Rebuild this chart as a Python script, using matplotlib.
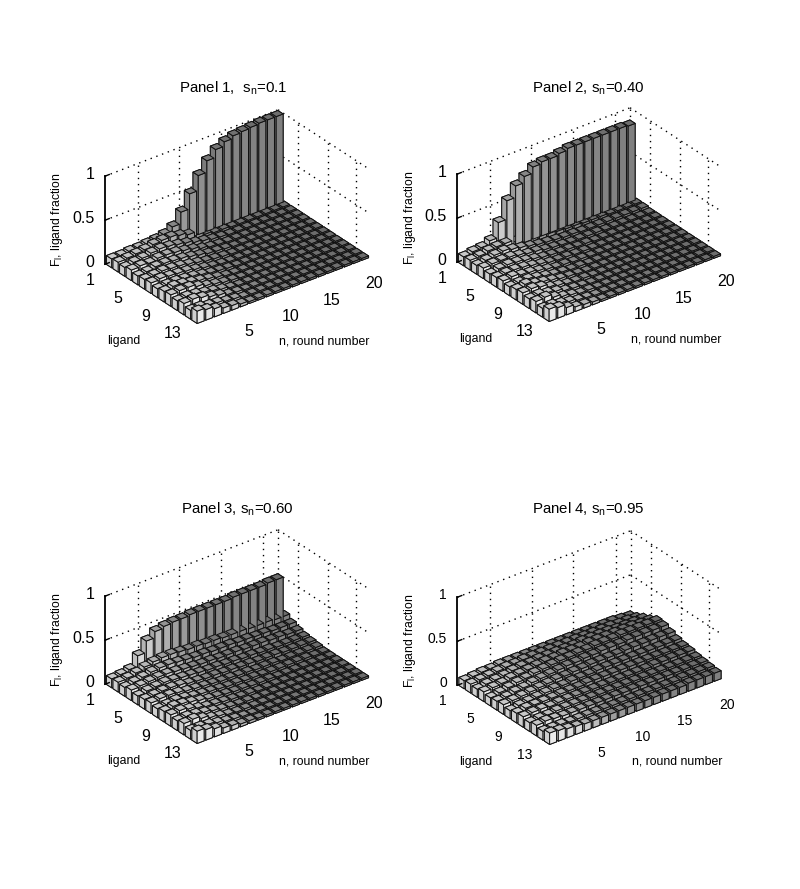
#!/usr/bin/env python3
# -*- coding: utf-8 -*-

import numpy as np
import matplotlib
matplotlib.use("Agg")
import matplotlib.pyplot as plt
from mpl_toolkits.mplot3d import proj3d

plt.rcParams["font.family"] = ["Liberation Sans", "DejaVu Sans"]
plt.rcParams["mathtext.default"] = "regular"

rounds = np.arange(1, 21)
ligands = np.arange(1, 15)

# tick labels do not sit on the bar centres in the original
n_ticks = [4.3, 9.1, 13.9, 18.8]
n_labels = ["5", "10", "15", "20"]
ligand_ticks = [-0.8, 3.4, 7.6, 11.7]
ligand_grid = [3.6, 8.1, 12.4]
ligand_labels = ["1", "5", "9", "13"]
z_ticks = [0, 0.5, 1]
z_labels = ["0", "0.5", "1"]

panel1 = [
    [.10, .10, .11, .11, .12, .13, .15, .20, .33, .50, .67, .80, .89, .94, .97, .98, .99, 1.0, 1.0, 1.0],
    [.11, .12, .13, .14, .16, .17, .17, .15, .12, .08, .05, .03, .03, .02, .02, .02, .02, .02, .02, .02],
    [.10, .12, .13, .15, .16, .15, .13, .11, .08, .06, .04, .03, .02, .02, .02, .02, .02, .02, .02, .02],
    [.12, .13, .12, .14, .14, .13, .11, .09, .06, .04, .03, .02, .02, .02, .02, .02, .02, .02, .02, .02],
    [.10, .11, .13, .13, .12, .11, .09, .07, .05, .04, .03, .02, .02, .02, .02, .02, .02, .02, .02, .02],
    [.11, .12, .13, .12, .11, .09, .07, .05, .04, .03, .02, .02, .02, .02, .02, .02, .02, .02, .02, .02],
    [.12, .13, .12, .11, .10, .08, .06, .04, .03, .02, .02, .02, .02, .02, .02, .02, .02, .02, .02, .02],
    [.10, .11, .11, .10, .09, .07, .05, .04, .03, .02, .02, .02, .02, .02, .02, .02, .02, .02, .02, .02],
    [.12, .14, .13, .11, .09, .07, .05, .03, .02, .02, .02, .02, .02, .02, .02, .02, .02, .02, .02, .02],
    [.13, .14, .14, .11, .08, .06, .04, .03, .02, .02, .02, .02, .02, .02, .02, .02, .02, .02, .02, .02],
    [.11, .12, .11, .09, .07, .05, .03, .02, .02, .02, .02, .02, .02, .02, .02, .02, .02, .02, .02, .02],
    [.13, .14, .12, .09, .07, .04, .03, .02, .02, .02, .02, .02, .02, .02, .02, .02, .02, .02, .02, .02],
    [.10, .10, .08, .07, .05, .04, .02, .02, .02, .02, .02, .02, .02, .02, .02, .02, .02, .02, .02, .02],
    [.14, .12, .09, .06, .05, .03, .02, .02, .02, .02, .02, .02, .02, .02, .02, .02, .02, .02, .02, .02],
]

panel2 = [
    [.10, .12, .13, .17, .34, .55, .68, .75, .82, .84, .84, .86, .88, .88, .88, .88, .88, .88, .88, .87],
    [.11, .12, .14, .15, .15, .13, .11, .09, .08, .07, .06, .05, .05, .04, .04, .04, .03, .03, .03, .03],
    [.10, .12, .14, .15, .13, .11, .09, .07, .06, .05, .04, .04, .03, .03, .03, .03, .03, .03, .03, .03],
    [.12, .13, .13, .13, .11, .09, .08, .06, .05, .04, .03, .03, .03, .03, .02, .02, .02, .02, .02, .02],
    [.10, .12, .13, .12, .10, .08, .06, .05, .04, .04, .03, .03, .02, .02, .02, .02, .02, .02, .02, .02],
    [.11, .12, .12, .11, .09, .07, .05, .04, .04, .03, .03, .02, .02, .02, .02, .02, .02, .02, .02, .02],
    [.12, .13, .11, .10, .08, .06, .04, .04, .03, .03, .02, .02, .02, .02, .02, .02, .02, .02, .02, .02],
    [.10, .11, .11, .09, .07, .05, .04, .03, .03, .02, .02, .02, .02, .02, .02, .02, .02, .02, .02, .02],
    [.12, .14, .11, .09, .07, .05, .04, .03, .02, .02, .02, .02, .02, .02, .02, .02, .02, .02, .02, .02],
    [.13, .14, .12, .08, .06, .04, .03, .03, .02, .02, .02, .02, .02, .02, .02, .02, .02, .02, .02, .02],
    [.11, .12, .10, .08, .05, .04, .03, .02, .02, .02, .02, .02, .02, .02, .02, .02, .02, .02, .02, .02],
    [.13, .14, .10, .07, .05, .03, .03, .02, .02, .02, .02, .02, .02, .02, .02, .02, .02, .02, .02, .02],
    [.10, .10, .08, .06, .04, .03, .02, .02, .02, .02, .02, .02, .02, .02, .02, .02, .02, .02, .02, .02],
    [.14, .12, .08, .05, .04, .03, .02, .02, .02, .02, .02, .02, .02, .02, .02, .02, .02, .02, .02, .02],
]

panel3 = [
    [.10, .11, .13, .25, .38, .45, .47, .48, .48, .49, .49, .49, .49, .49, .50, .50, .50, .50, .51, .51],
    [.11, .12, .14, .17, .19, .20, .20, .19, .18, .18, .17, .17, .16, .16, .16, .15, .15, .15, .14, .14],
    [.10, .12, .14, .16, .17, .17, .16, .15, .14, .14, .13, .13, .13, .12, .12, .11, .11, .10, .10, .10],
    [.12, .13, .14, .15, .15, .14, .13, .12, .11, .11, .10, .10, .10, .09, .09, .09, .08, .08, .07, .07],
    [.10, .12, .13, .14, .13, .12, .11, .10, .09, .09, .08, .08, .07, .07, .06, .06, .05, .05, .05, .05],
    [.11, .12, .13, .13, .12, .10, .09, .08, .08, .07, .07, .06, .06, .05, .05, .05, .04, .04, .04, .04],
    [.12, .13, .13, .12, .10, .09, .08, .07, .06, .06, .05, .05, .04, .04, .04, .03, .03, .03, .03, .03],
    [.10, .11, .12, .11, .09, .08, .07, .06, .05, .05, .04, .04, .03, .03, .03, .03, .03, .03, .02, .02],
    [.12, .14, .13, .11, .09, .07, .06, .05, .04, .04, .03, .03, .03, .02, .02, .02, .02, .02, .02, .02],
    [.13, .14, .12, .09, .07, .06, .05, .04, .03, .03, .02, .02, .02, .02, .02, .02, .02, .02, .02, .02],
    [.11, .12, .11, .09, .07, .05, .04, .03, .03, .02, .02, .02, .02, .02, .02, .02, .02, .02, .02, .02],
    [.13, .14, .11, .08, .06, .04, .03, .03, .02, .02, .02, .02, .02, .02, .02, .02, .02, .02, .02, .02],
    [.10, .10, .09, .07, .05, .04, .03, .02, .02, .02, .02, .02, .02, .02, .02, .02, .02, .02, .02, .02],
    [.14, .12, .09, .06, .05, .03, .03, .02, .02, .02, .02, .02, .02, .02, .02, .02, .02, .02, .02, .02],
]

panel4 = [
    [.09, .10, .11, .11, .12, .12, .12, .12, .12, .12, .12, .12, .12, .12, .12, .12, .12, .12, .11, .10],
    [.10, .11, .12, .13, .14, .14, .15, .15, .15, .15, .15, .15, .15, .15, .15, .15, .15, .14, .14, .13],
    [.09, .11, .12, .13, .15, .16, .16, .17, .17, .17, .17, .17, .18, .18, .18, .18, .17, .17, .17, .17],
    [.11, .12, .13, .15, .16, .17, .18, .19, .19, .20, .20, .20, .21, .21, .21, .21, .21, .21, .20, .20],
    [.09, .11, .13, .15, .16, .18, .19, .20, .21, .21, .22, .22, .23, .23, .23, .24, .24, .24, .24, .24],
    [.10, .11, .13, .14, .16, .17, .18, .19, .20, .20, .21, .21, .22, .22, .22, .23, .23, .23, .23, .23],
    [.11, .12, .13, .14, .15, .16, .17, .17, .18, .18, .19, .19, .19, .19, .20, .20, .20, .20, .20, .20],
    [.09, .11, .12, .13, .14, .15, .15, .16, .16, .16, .17, .17, .17, .17, .17, .17, .17, .17, .17, .17],
    [.11, .13, .13, .13, .13, .14, .14, .14, .15, .15, .15, .15, .15, .15, .15, .15, .15, .15, .15, .15],
    [.12, .13, .13, .12, .13, .13, .13, .13, .13, .13, .13, .13, .13, .13, .13, .14, .14, .14, .14, .14],
    [.10, .11, .11, .12, .12, .12, .12, .12, .12, .12, .12, .12, .12, .12, .12, .12, .12, .12, .12, .12],
    [.12, .13, .12, .11, .11, .11, .11, .11, .11, .11, .11, .11, .11, .11, .11, .11, .11, .11, .11, .11],
    [.10, .10, .10, .09, .09, .09, .09, .09, .09, .09, .09, .09, .09, .09, .09, .09, .10, .10, .10, .10],
    [.13, .12, .10, .09, .08, .08, .08, .08, .08, .08, .08, .08, .08, .08, .08, .08, .09, .09, .09, .09],
]

titles = ["Panel 1,  s$_n$=0.1", "Panel 2, s$_n$=0.40", "Panel 3, s$_n$=0.60", "Panel 4, s$_n$=0.95"]
panels = [panel1, panel2, panel3, panel4]

# grey level of each round's bars, light at round 1
round_greys = [.92, .90, .88, .85, .80, .74, .68, .62, .60, .58, .56, .55, .54, .53, .52, .52, .51, .51, .50, .50]

# box centre on the page in pixels, box scale, title position, tick font size
centres = [(237.5, 217), (589.5, 215), (237.5, 637), (590, 638)]
sizes = [276, 276, 276, 276]
title_pos = [(233, 88), (588, 88), (237, 509), (588, 509)]
tick_fonts = [11.5, 11.5, 11.5, 10]

W, H = 800, 889


def put_text(ax, x, y, z, label, fontsize, ha="center"):
    # 2D text at the projected point, so its position is a plain page position
    px, py, _ = proj3d.proj_transform(x, y, z, ax.get_proj())
    ax.text2D(px, py, label, transform=ax.transData, ha=ha, va="center",
              fontsize=fontsize, zorder=4)


def draw_panel(fig, values, title, centre, size, title_xy, tick_font):
    left = centre[0] - 0.5135 * size
    bottom = H - centre[1] - 0.5135 * size
    ax = fig.add_axes([left / W, bottom / H, size / W, size / H], projection="3d", proj_type="ortho")
    ax.set_axis_off()
    ax.patch.set_alpha(0)
    ax.computed_zorder = False
    ax.view_init(elev=30, azim=-127.5)
    ax.set_box_aspect((218, 151, 101.6))
    ax.set_xlim(0.5, 20.5)
    ax.set_ylim(14.5, 0.5)
    ax.set_zlim(0, 1)

    x0, x1 = 0.5, 20.5
    y0, y1 = 0.5, 14.5
    dots = dict(color="black", lw=1.0, ls=(0, (1, 3.4)), zorder=1)

    # walls: dotted grid behind the bars
    for z in z_ticks[1:]:
        ax.plot([x0, x1], [y0, y0], [z, z], **dots)
        ax.plot([x1, x1], [y0, y1], [z, z], **dots)
    for x in n_ticks:
        ax.plot([x, x], [y0, y0], [0, 1], **dots)
    for y in ligand_grid:
        ax.plot([x1, x1], [y, y], [0, 1], **dots)
    ax.plot([x1, x1], [y0, y0], [0, 1], **dots)

    values = np.array(values)
    xx, yy = np.meshgrid(rounds, ligands)
    bar_shade = np.tile(round_greys, (len(ligands), 1)).ravel()
    # bar3d face order: bottom, top, -y, +y, -x, +x
    face_gain = np.array([0.8, 0.85, 0.9, 1.0, 0.88, 0.9])
    face_grey = np.clip(np.outer(bar_shade, face_gain).ravel(), 0, 1)
    colors = plt.cm.gray(face_grey)
    width = 0.8
    ax.bar3d(xx.ravel() - width / 2, yy.ravel() - width / 2, np.zeros(values.size),
             width, width, values.ravel(), color=colors, edgecolor="#111111",
             linewidth=0.7, shade=False, zorder=2)

    # z axis line and tick marks
    ax.plot([x0, x0], [y0, y0], [0, 1], color="black", lw=1.3, zorder=3)
    for z, label in zip(z_ticks, z_labels):
        ax.plot([x0, x0 + 0.5], [y0, y0], [z, z], color="black", lw=1, zorder=3)
        put_text(ax, x0 - 1.2, y0, z + 0.07, label, tick_font, ha="right")
    for x, label in zip(n_ticks, n_labels):
        put_text(ax, x, y1 + 2.9, -0.09, label, tick_font)
    for y, label in zip(ligand_ticks, ligand_labels):
        put_text(ax, x0 - 0.7, y, -0.22, label, tick_font)

    fig.text(title_xy[0] / W, 1 - title_xy[1] / H, title, ha="center", va="center", fontsize=10.8)
    fig.text((centre[0] - 114) / W, 1 - (centre[1] + 124) / H, "ligand", ha="center", va="center", fontsize=8.8)
    fig.text((centre[0] + 87) / W, 1 - (centre[1] + 124) / H, "n, round number", ha="center", va="center", fontsize=8.8)
    fig.text((centre[0] - 180) / W, 1 - (centre[1] + 3) / H, "F$_l$, ligand fraction", rotation=90,
             ha="center", va="center", fontsize=8.8)


fig = plt.figure(figsize=(W / 100, H / 100), dpi=100, facecolor="white")
for i in range(4):
    draw_panel(fig, panels[i], titles[i], centres[i], sizes[i], title_pos[i], tick_fonts[i])
fig.savefig("out.png", dpi=100)
plt.close(fig)
